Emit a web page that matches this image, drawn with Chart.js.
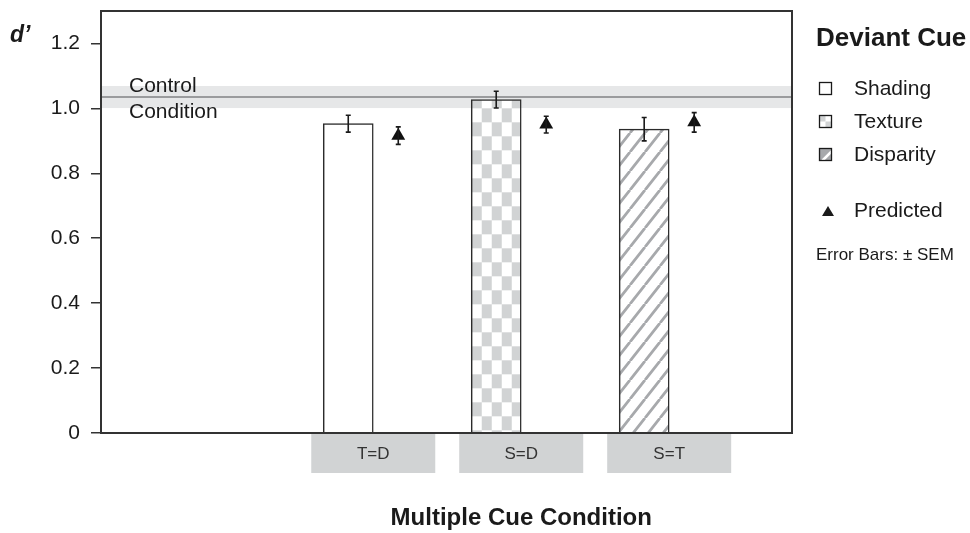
<!DOCTYPE html>
<html>
<head>
<meta charset="utf-8">
<script src="https://cdn.jsdelivr.net/npm/chart.js@4.4.1/dist/chart.umd.min.js"></script>
<style>
  html, body { margin: 0; padding: 0; background: #fff; }
  #wrap { width: 970px; height: 533px; position: relative; }
</style>
</head>
<body>
<div id="wrap"><canvas id="chart" width="970" height="533"></canvas></div>
<script>
// d' per multiple cue condition
var categories = ['T=D', 'S=D', 'S=T'];
var deviantCues = ['Shading', 'Texture', 'Disparity'];
var observed = [0.953, 1.027, 0.936];
var observedSem = [0.026, 0.026, 0.036];
var predicted = [0.916, 0.950, 0.957];
var predictedSem = [0.027, 0.026, 0.030];
var controlMean = 1.035;
var controlSem = 0.034;
var yTicks = [0, 0.2, 0.4, 0.6, 0.8, 1.0, 1.2];
var yTickLabels = ['0', '0.2', '0.4', '0.6', '0.8', '1.0', '1.2'];

var FONT = '"Liberation Sans", Arial, sans-serif';
var INK = '#1a1a1a';
var LIGHT_GRAY = '#d1d3d4';
var STRIPE_GRAY = '#a7a9ac';
var SHIFT = 0.169;   // bar left / triangle right of the category centre

function makeChecker() {
    var c = document.createElement('canvas');
    c.width = 20; c.height = 28;
    var g = c.getContext('2d');
    g.fillStyle = '#fff';
    g.fillRect(0, 0, 20, 28);
    g.fillStyle = LIGHT_GRAY;
    g.fillRect(0, 0, 10, 14);
    g.fillRect(10, 14, 10, 14);
    var p = g.createPattern(c, 'repeat');
    p.setTransform(new DOMMatrix().translate(1.7, 24.3));
    return p;
}

function makeStripes() {
    var w = 15, h = 19;
    var c = document.createElement('canvas');
    c.width = w; c.height = h;
    var g = c.getContext('2d');
    g.fillStyle = '#fff';
    g.fillRect(0, 0, w, h);
    g.strokeStyle = STRIPE_GRAY;
    g.lineWidth = 2.8;
    g.beginPath();
    for (var k = -1; k <= 1; k++) {
        g.moveTo(k * w, h); g.lineTo(k * w + w, 0);
    }
    g.stroke();
    return g.createPattern(c, 'repeat');
}

var fills = ['#ffffff', makeChecker(), makeStripes()];

var decorations = {
    id: 'decorations',
    beforeDatasetsDraw: function(chart) {
        var ctx = chart.ctx, a = chart.chartArea, y = chart.scales.y;
        ctx.save();
        // control condition band and mean line
        var top = y.getPixelForValue(controlMean + controlSem);
        var bot = y.getPixelForValue(controlMean - controlSem);
        ctx.fillStyle = '#e6e7e8';
        ctx.fillRect(a.left, top, a.right - a.left, bot - top);
        var my = y.getPixelForValue(controlMean);
        ctx.strokeStyle = '#808285';
        ctx.lineWidth = 1.5;
        ctx.beginPath();
        ctx.moveTo(a.left, my); ctx.lineTo(a.right, my);
        ctx.stroke();
        ctx.fillStyle = INK;
        ctx.font = '21px ' + FONT;
        ctx.textAlign = 'left';
        ctx.textBaseline = 'alphabetic';
        ctx.fillText('Control', 129, 92);
        ctx.fillText('Condition', 129, 118);
        ctx.restore();
    },
    afterDatasetsDraw: function(chart) {
        var ctx = chart.ctx, x = chart.scales.x, y = chart.scales.y;
        ctx.save();
        ctx.strokeStyle = INK;
        ctx.lineWidth = 1.6;
        function errBar(cx, v, e) {
            var t = y.getPixelForValue(v + e), b = y.getPixelForValue(v - e);
            ctx.beginPath();
            ctx.moveTo(cx, t); ctx.lineTo(cx, b);
            ctx.moveTo(cx - 2.5, t); ctx.lineTo(cx + 2.5, t);
            ctx.moveTo(cx - 2.5, b); ctx.lineTo(cx + 2.5, b);
            ctx.stroke();
        }
        categories.forEach(function(c, i) {
            errBar(x.getPixelForValue(i + 1 - SHIFT), observed[i], observedSem[i]);
            errBar(x.getPixelForValue(i + 1 + SHIFT), predicted[i], predictedSem[i]);
        });
        ctx.restore();
    },
    afterDraw: function(chart) {
        var ctx = chart.ctx, a = chart.chartArea, x = chart.scales.x;
        ctx.save();
        // frame
        ctx.strokeStyle = '#333';
        ctx.lineWidth = 2;
        ctx.strokeRect(a.left, a.top, a.right - a.left, a.bottom - a.top);

        // category label boxes
        ctx.font = '17px ' + FONT;
        ctx.textAlign = 'center';
        ctx.textBaseline = 'middle';
        categories.forEach(function(c, i) {
            var cx = x.getPixelForValue(i + 1);
            ctx.fillStyle = LIGHT_GRAY;
            ctx.fillRect(cx - 62, a.bottom + 1, 124, 39);
            ctx.fillStyle = '#333';
            ctx.fillText(c, cx, a.bottom + 21);
        });

        // axis titles
        ctx.fillStyle = INK;
        ctx.textBaseline = 'alphabetic';
        ctx.font = 'bold 24px ' + FONT;
        ctx.fillText('Multiple Cue Condition', (x.getPixelForValue(1) + x.getPixelForValue(3)) / 2, 525);
        ctx.textAlign = 'left';
        ctx.font = 'italic bold 23px ' + FONT;
        ctx.fillText('d\u2019', 10, 42);

        // legend
        ctx.font = 'bold 26px ' + FONT;
        ctx.fillText('Deviant Cue', 816, 46);
        ctx.font = '21px ' + FONT;
        var rows = [95, 128, 161];
        deviantCues.forEach(function(name, i) {
            var sx = 819.5, sy = rows[i] - 12.5, s = 12;
            if (i === 0) {
                ctx.fillStyle = '#fff';
                ctx.fillRect(sx, sy, s, s);
            } else if (i === 1) {
                ctx.fillStyle = '#fff';
                ctx.fillRect(sx, sy, s, s);
                ctx.fillStyle = LIGHT_GRAY;
                ctx.fillRect(sx, sy, s / 2, s / 2);
                ctx.fillRect(sx + s / 2, sy + s / 2, s / 2, s / 2);
            } else {
                ctx.fillStyle = STRIPE_GRAY;
                ctx.fillRect(sx, sy, s, s);
                ctx.strokeStyle = '#fff';
                ctx.lineWidth = 2.5;
                ctx.beginPath();
                ctx.moveTo(sx + 3, sy + s); ctx.lineTo(sx + s, sy + 3);
                ctx.stroke();
            }
            ctx.strokeStyle = INK;
            ctx.lineWidth = 1.3;
            ctx.strokeRect(sx, sy, s, s);
            ctx.fillStyle = INK;
            ctx.fillText(name, 854, rows[i]);
        });
        ctx.beginPath();
        ctx.moveTo(828, 206); ctx.lineTo(834, 216); ctx.lineTo(822, 216);
        ctx.closePath();
        ctx.fill();
        ctx.fillText('Predicted', 854, 217);
        ctx.font = '17px ' + FONT;
        ctx.fillText('Error Bars: \u00b1 SEM', 816, 260);
        ctx.restore();
    }
};

new Chart(document.getElementById('chart'), {
    type: 'bar',
    data: {
        datasets: [{
            type: 'bar',
            label: 'Observed',
            data: categories.map(function(c, i) { return { x: i + 1 - SHIFT, y: observed[i] }; }),
            backgroundColor: fills,
            borderColor: '#2b2b2b',
            borderWidth: 1.5,
            barThickness: 50
        }, {
            type: 'scatter',
            label: 'Predicted',
            data: categories.map(function(c, i) { return { x: i + 1 + SHIFT, y: predicted[i] }; }),
            pointStyle: 'triangle',
            radius: 8,
            backgroundColor: '#111',
            borderColor: '#111',
            borderWidth: 0
        }]
    },
    options: {
        responsive: false,
        animation: false,
        layout: { padding: { top: 11, right: 178, bottom: 100, left: 0 } },
        plugins: { legend: { display: false }, tooltip: { enabled: false } },
        scales: {
            x: {
                type: 'linear',
                display: false,
                offset: false,
                min: -0.84,
                max: 3.83
            },
            y: {
                min: 0,
                max: 1.3,
                afterFit: function(scale) {
                    scale.width = 101;
                    scale.paddingTop = 0;
                    scale.paddingBottom = 0;
                },
                afterBuildTicks: function(scale) {
                    scale.ticks = yTicks.map(function(v) { return { value: v }; });
                },
                ticks: {
                    padding: 11,
                    color: INK,
                    font: { family: FONT, size: 21, lineHeight: 1 },
                    callback: function(v) { return yTickLabels[yTicks.indexOf(v)]; }
                },
                grid: {
                    drawOnChartArea: false,
                    drawTicks: true,
                    tickLength: 10,
                    color: '#333',
                    lineWidth: 1.5
                },
                border: { display: true, color: '#333', width: 2 }
            }
        }
    },
    plugins: [decorations]
});
</script>
</body>
</html>
